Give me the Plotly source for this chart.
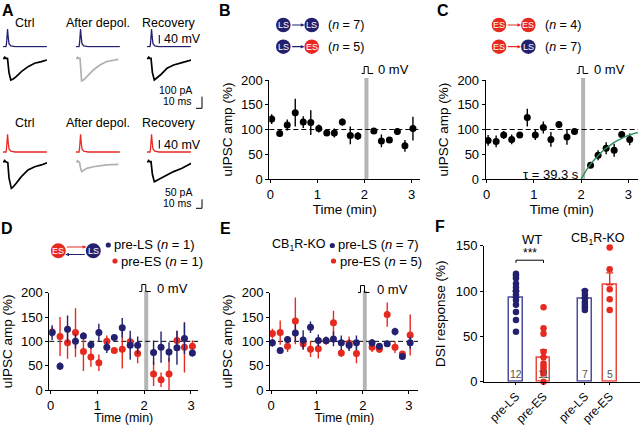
import plotly.graph_objects as go

W, H = 640, 425
FONT = "Arial, 'Liberation Sans', Helvetica, sans-serif"
NAVY = "#23206f"
RED = "#e62a20"
BLUE_OUT = "#4d4b9e"
RED_OUT = "#e8473b"
GRAY_BAR = "#b5b5b5"
GREEN = "#2f8f5b"
TRACE_GRAY = "#b0b0b0"

# ------------------------------------------------------------------ data
time_min = [0.03, 0.2, 0.36, 0.53, 0.7, 0.86, 1.03, 1.2, 1.36, 1.53, 1.7, 1.86,
            2.2, 2.36, 2.53, 2.7, 2.86, 3.03]

b_amp = [121, 92, 109, 134, 115, 114, 102, 93, 93, 115, 88, 87, 97, 77, 79, 96, 67, 102]
b_err = [10, 7, 11, 28, 12, 25, 8, 5, 9, 7, 18, 8, 5, 13, 5, 7, 12, 24]

c_amp = [78, 76, 89, 80, 89, 124, 89, 104, 80, 110, 85, 96, 28, 48, 62, 58, 90, 80]
c_err = [11, 12, 8, 10, 6, 18, 10, 12, 15, 7, 16, 6, 6, 10, 12, 13, 5, 12]
c_fit_t = [2.0, 2.1, 2.2, 2.3, 2.4, 2.5, 2.6, 2.7, 2.8, 2.9, 3.0, 3.1, 3.2]
c_fit_amp = [0, 16, 30, 41, 51, 60, 67, 74, 79, 84, 88, 91, 94]
tau_label = "τ = 39.3 s"

d_ls_amp = [118, 49, 125, 100, 111, 93, 118, 88, 108, 128, 92, 92, 77, 88, 78, 87, 106, 76]
d_ls_err = [15, 8, 28, 15, 6, 8, 18, 12, 5, 20, 30, 18, 25, 32, 20, 35, 32, 7]
d_es_amp = [119, 110, 97, 118, 79, 68, 56, 100, 81, 84, 99, 75, 33, 21, 33, 102, 88, 90]
d_es_err = [10, 40, 33, 50, 40, 20, 17, 12, 3, 40, 10, 20, 25, 15, 33, 20, 52, 12]

e_ls_amp = [97, 81, 104, 117, 103, 129, 102, 102, 105, 97, 92, 97, 97, 90, 95, 120, 69, 97]
e_ls_err = [8, 6, 7, 18, 20, 12, 12, 8, 15, 15, 12, 15, 8, 5, 6, 8, 5, 12]
e_es_amp = [116, 118, 90, 142, 95, 84, 85, 101, 138, 76, 96, 75, 88, 84, 155, 88, 74, 113]
e_es_err = [10, 25, 12, 48, 12, 16, 20, 8, 25, 8, 14, 20, 10, 8, 25, 12, 5, 42]

f_labels = ["pre-LS", "pre-ES", "pre-LS", "pre-ES"]
f_means = [93, 27, 92, 107]
f_sem = [7, 8, 9, 13]
f_points = [
    [119, 117, 114, 108, 104, 100, 96, 90, 85, 77, 68, 55],
    [82, 59, 53, 33, 27, 20, 17, 14, 11, 9, 0],
    [100, 96, 92, 88, 85, 82, 79],
    [148, 124, 102, 91, 79],
]

# Panel A waveforms (ms, mV / pA)
spike_t = [0, 5, 6, 6.8, 7.6, 8.6, 10, 13, 20, 73]
spike_mv = [-65, -65, -45, 5, 23, -15, -50, -61, -65, -65]

ipsc_top = {
    "ctrl": ([0, 2, 3, 4.5, 7.5, 10, 13, 17, 22, 30.6, 41.7, 52.8, 63.9, 73.3],
             [0, 0, 10, 0, 0, -130, -197, -188, -167, -121, -76, -45, -30, -15]),
    "after": ([0, 2, 3, 4.5, 6.7, 8, 9.4, 13, 17.8, 28.9, 40, 51, 60, 70.6],
              [0, 0, 8, 0, 0, -120, -206, -195, -167, -106, -61, -30, -20, -9]),
    "recov": ([0, 2, 3, 4.5, 6.7, 9, 12.2, 16, 22.2, 33.3, 44.4, 58.3, 66, 73.9],
              [0, 0, 10, 0, 0, -130, -197, -180, -152, -91, -61, -39, -25, -15]),
}
ipsc_bot = {
    "ctrl": ([0, 2, 3, 4.5, 8, 10, 13.9, 17, 22, 30.6, 41.7, 52.8, 63.9, 73.3],
             [0, 0, 6, 0, -5, -90, -148, -140, -120, -83, -46, -28, -18, -6]),
    "after": ([0, 2, 3, 4.5, 6, 7.5, 9.4, 13, 17.8, 28.9, 40, 51, 60, 70.6],
              [0, 0, 5, 0, -5, -35, -55, -48, -37, -28, -22, -18, -16, -15]),
    "recov": ([0, 2, 3, 4.5, 6.7, 9, 12.2, 16, 22.2, 33.3, 44.4, 58.3, 66, 73.9],
              [0, 0, 6, 0, 0, -70, -111, -105, -96, -74, -55, -37, -22, -9]),
}

# ------------------------------------------------------------------ helpers
def X(p):
    return p / W


def Y(p):
    return 1 - p / H


layout_axes = {}
traces = []
shapes = []
annotations = []


def ax_name(i, kind):
    return f"{kind}axis" if i == 1 else f"{kind}axis{i}"


def ax_ref(i, kind):
    return kind if i == 1 else f"{kind}{i}"


def add_axis(i, x0, x1, ytop, ybot, xr, yr, visible=False, xkw=None, ykw=None):
    base = dict(showgrid=False, zeroline=False, fixedrange=True, automargin=False)
    xa = dict(base, domain=[X(x0), X(x1)], range=xr, anchor=ax_ref(i, "y"), visible=visible)
    ya = dict(base, domain=[Y(ybot), Y(ytop)], range=yr, anchor=ax_ref(i, "x"), visible=visible)
    if xkw:
        xa.update(xkw)
    if ykw:
        ya.update(ykw)
    layout_axes[ax_name(i, "x")] = xa
    layout_axes[ax_name(i, "y")] = ya


def ann(text, x, y, size=12.5, xanchor="center", color="black", bold=False, yanchor="middle"):
    if bold:
        text = f"<b>{text}</b>"
    annotations.append(dict(text=text, x=X(x), y=Y(y), xref="paper", yref="paper",
                            showarrow=False, xanchor=xanchor, yanchor=yanchor, borderpad=0,
                            font=dict(size=size, color=color, family=FONT)))


def path_px(points, color="black", width=1):
    d = "M " + " L ".join(f"{X(px)},{Y(py)}" for px, py in points)
    shapes.append(dict(type="path", path=d, xref="paper", yref="paper",
                       line=dict(color=color, width=width)))


# ------------------------------------------------------------------ Panel A
col_x0 = {"ctrl": 3, "after": 76, "recov": 147}
col_label = {"ctrl": ("Ctrl", 24), "after": ("After depol.", 98), "recov": ("Recovery", 169)}
idx = 1
for group, spike_color, spike_top, ipsc_data, ipsc_top_px, ipsc_range, label_y in [
    ("top", NAVY, 27.7, ipsc_top, 56.1, [-230, 20], 23),
    ("bot", RED, 133.0, ipsc_bot, 159.0, [-170, 15], 123),
]:
    ipsc_h = (ipsc_range[1] - ipsc_range[0]) / (9.09 if group == "top" else 5.56)
    for col in ["ctrl", "after", "recov"]:
        x0 = col_x0[col]
        add_axis(idx, x0, x0 + 44, spike_top, spike_top + 20, [0, 73.3], [-70, 30])
        traces.append(go.Scatter(x=spike_t, y=spike_mv, mode="lines",
                                 line=dict(color=spike_color, width=1.3),
                                 xaxis=ax_ref(idx, "x"), yaxis=ax_ref(idx, "y"),
                                 showlegend=False, hoverinfo="skip"))
        idx += 1
        t, v = ipsc_data[col]
        add_axis(idx, x0, x0 + 44, ipsc_top_px, ipsc_top_px + ipsc_h, [0, 73.3], ipsc_range)
        traces.append(go.Scatter(x=t, y=v, mode="lines",
                                 line=dict(color=TRACE_GRAY if col == "after" else "black", width=1.7),
                                 xaxis=ax_ref(idx, "x"), yaxis=ax_ref(idx, "y"),
                                 showlegend=False, hoverinfo="skip"))
        idx += 1
        txt, cx = col_label[col]
        ann(txt, cx, label_y, size=12.5)

# scale bars panel A
for ytop, ybot, ytext in [(35, 43.5, 39.5), (140, 148.5, 144.5)]:
    path_px([(159.3, ytop), (159.3, ybot)], width=1)
    ann("40 mV", 162.5, ytext, size=12.5, xanchor="left")
path_px([(202, 96.7), (202, 108.3), (196, 108.3)], width=1)
ann("100 pA", 193, 90.5, size=10.5, xanchor="right")
ann("10 ms", 193, 101, size=10.5, xanchor="right")
path_px([(202, 199.3), (202, 208.3), (196, 208.3)], width=1)
ann("50 pA", 193, 192, size=10.5, xanchor="right")
ann("10 ms", 193, 202.5, size=10.5, xanchor="right")

# ------------------------------------------------------------------ B-E time courses
tick_font = dict(size=13, family=FONT, color="black")
title_font = dict(size=13.5, family=FONT, color="black")


def time_axes(i, x0, x1, ytop, ybot, xr, xtitle_y=None):
    xkw = dict(visible=True, showline=True, linecolor="black", linewidth=1, ticks="outside",
               ticklen=3, tickwidth=1, tickcolor="black", tickvals=[0, 1, 2, 3],
               tickfont=tick_font)
    if xtitle_y is None:
        xkw["title"] = dict(text="Time (min)", font=title_font, standoff=1)
    else:
        ann("Time (min)", (x0 + x1) / 2, xtitle_y, size=12.5)
    ykw = dict(visible=True, showline=True, linecolor="black", linewidth=1, ticks="outside",
               ticklen=3, tickwidth=1, tickcolor="black", tickvals=[0, 50, 100, 150, 200],
               tickfont=tick_font, title=dict(text="uIPSC amp (%)", font=title_font, standoff=5))
    add_axis(i, x0, x1, ytop, ybot, xr, [0, 200], xkw=xkw, ykw=ykw)
    shapes.append(dict(type="rect", xref=ax_ref(i, "x"), yref=ax_ref(i, "y") + " domain",
                       x0=2.0, x1=2.085, y0=0, y1=1.02, fillcolor=GRAY_BAR, line=dict(width=0),
                       layer="below"))
    shapes.append(dict(type="line", xref=ax_ref(i, "x") + " domain", yref=ax_ref(i, "y"),
                       x0=0, x1=1, y0=100, y1=100,
                       line=dict(color="black", width=1, dash="5px,3px"), layer="below"))


def pts(i, y, err, color, ecolor):
    traces.append(go.Scatter(x=time_min, y=y, mode="markers",
                             marker=dict(color=color, size=7),
                             error_y=dict(type="data", array=err, color=ecolor, thickness=1.4, width=0),
                             xaxis=ax_ref(i, "x"), yaxis=ax_ref(i, "y"),
                             showlegend=False, hoverinfo="skip"))


def pulse(x0, y):
    path_px([(x0, y + 3.5), (x0 + 2.5, y + 3.5), (x0 + 2.5, y - 3.5), (x0 + 6.5, y - 3.5),
             (x0 + 6.5, y + 3.5), (x0 + 11.5, y + 3.5)], width=1)


iB, iC, iD, iE, iF = 13, 14, 15, 16, 17
time_axes(iB, 269.3, 420, 80, 179, [-0.021, 3.18])
time_axes(iC, 485.7, 638, 80, 179, [-0.021, 3.205])
time_axes(iD, 49.3, 198, 292.7, 390, [-0.03, 3.15], xtitle_y=417.5)
time_axes(iE, 270, 418, 292.7, 390, [-0.022, 3.2], xtitle_y=417.5)

pts(iB, b_amp, b_err, "black", "black")
pts(iC, c_amp, c_err, "black", "black")
traces.append(go.Scatter(x=c_fit_t, y=c_fit_amp, mode="lines", line=dict(color=GREEN, width=1.4, shape="spline"),
                         xaxis=ax_ref(iC, "x"), yaxis=ax_ref(iC, "y"), showlegend=False, hoverinfo="skip"))
annotations.append(dict(text=tau_label, x=1.99, y=10, xref=ax_ref(iC, "x"), yref=ax_ref(iC, "y"),
                        showarrow=False, xanchor="right", yanchor="middle",
                        font=dict(size=13, family=FONT, color="black")))
pts(iD, d_es_amp, d_es_err, RED, RED)
pts(iD, d_ls_amp, d_ls_err, NAVY, NAVY)
pts(iE, e_es_amp, e_es_err, RED, RED)
pts(iE, e_ls_amp, e_ls_err, NAVY, NAVY)

for px0, py, tx in [(361.7, 70, 377), (576.7, 70, 592.5), (139.3, 288, 156), (358, 289, 375.5)]:
    pulse(px0, py)
    ann("0 mV", tx, py, size=13, xanchor="left")


# icons
def circle(cx, cy, r, color, label):
    shapes.append(dict(type="circle", xref="paper", yref="paper",
                       x0=X(cx - r), x1=X(cx + r), y0=Y(cy + r), y1=Y(cy - r),
                       fillcolor=color, line=dict(width=0)))
    ann(label, cx, cy + 0.3, size=9, color="white")


def arrow(x_from, x_to, y, color):
    annotations.append(dict(x=X(x_to), y=Y(y), ax=x_from - x_to, ay=0, xref="paper", yref="paper",
                            axref="pixel", ayref="pixel", text="", showarrow=True,
                            arrowhead=2, arrowsize=0.6, arrowwidth=1.2, arrowcolor=color,
                            standoff=0, startstandoff=0))


def pair_icon(x1, x2, y, c1, l1, c2, l2, ntext):
    r = 7.3
    arrow(x1 + r, x2 - r, y, c1)
    circle(x1, y, r, c1, l1)
    circle(x2, y, r, c2, l2)
    ann(ntext, x2 + 15.5, y, size=12.5, xanchor="left")


pair_icon(283.3, 311.7, 25, NAVY, "LS", NAVY, "LS", "(<i>n</i> = 7)")
pair_icon(283.3, 311.7, 46.7, NAVY, "LS", RED, "ES", "(<i>n</i> = 5)")
pair_icon(499, 528.3, 25, RED, "ES", RED, "ES", "(<i>n</i> = 4)")
pair_icon(499, 528.3, 46.7, RED, "ES", NAVY, "LS", "(<i>n</i> = 7)")

# D icon
arrow(58.3 + 7, 93.3 - 7, 247, RED)
arrow(93.3 - 7, 58.3 + 7, 254.5, NAVY)
circle(58.3, 250.7, 7.5, RED, "ES")
circle(93.3, 250.7, 7.5, NAVY, "LS")


def legend_dot(cx, cy, color):
    shapes.append(dict(type="circle", xref="paper", yref="paper",
                       x0=X(cx - 2.6), x1=X(cx + 2.6), y0=Y(cy + 2.6), y1=Y(cy - 2.6),
                       fillcolor=color, line=dict(width=0)))


legend_dot(108.3, 245, NAVY)
ann("pre-LS (<i>n</i> = 1)", 113, 245, size=13, xanchor="left")
legend_dot(115, 261, RED)
ann("pre-ES (<i>n</i> = 1)", 120, 261, size=13, xanchor="left")

ann("CB<sub>1</sub>R-KO", 271, 245, size=12.5, xanchor="left")
legend_dot(332.3, 245.5, NAVY)
ann("pre-LS (<i>n</i> = 7)", 337, 245, size=13, xanchor="left")
legend_dot(333.5, 261, RED)
ann("pre-ES (<i>n</i> = 5)", 338.5, 261, size=13, xanchor="left")

# ------------------------------------------------------------------ F
f_pos = [0, 1, 2.5, 3.4]
f_colors = [NAVY, RED, NAVY, RED]
f_out = [BLUE_OUT, RED_OUT, BLUE_OUT, RED_OUT]
xkwF = dict(visible=True, showline=True, linecolor="black", linewidth=1, ticks="outside",
            ticklen=2, tickcolor="black", tickvals=f_pos, ticktext=f_labels, tickangle=-45,
            tickfont=dict(size=12, family=FONT, color="black"))
ykwF = dict(visible=True, showline=True, linecolor="black", linewidth=1, ticks="outside",
            ticklen=3, tickwidth=1, tickcolor="black", tickvals=[0, 50, 100, 150],
            tickfont=tick_font, title=dict(text="DSI response (%)", font=title_font, standoff=6))
add_axis(iF, 484, 640, 245.7, 381.7, [-1.16, 4.5], [0, 150], xkw=xkwF, ykw=ykwF)
for k in range(4):
    traces.append(go.Bar(x=[f_pos[k]], y=[f_means[k]], width=0.5,
                         marker=dict(color="white", line=dict(color=f_out[k], width=1.5)),
                         error_y=dict(type="data", symmetric=False, array=[f_sem[k]], arrayminus=[0],
                                      color=f_colors[k], thickness=1.4, width=3.5),
                         xaxis=ax_ref(iF, "x"), yaxis=ax_ref(iF, "y"),
                         showlegend=False, hoverinfo="skip"))
    traces.append(go.Scatter(x=[f_pos[k]] * len(f_points[k]), y=f_points[k], mode="markers",
                             marker=dict(color=f_colors[k], size=6.5),
                             xaxis=ax_ref(iF, "x"), yaxis=ax_ref(iF, "y"),
                             showlegend=False, hoverinfo="skip", cliponaxis=False))
    annotations.append(dict(text=str(len(f_points[k])), x=f_pos[k], y=9, xref=ax_ref(iF, "x"),
                            yref=ax_ref(iF, "y"), showarrow=False,
                            font=dict(size=10.5, family=FONT, color="#555555")))

shapes.append(dict(type="path", xref=ax_ref(iF, "x"), yref=ax_ref(iF, "y"),
                   path="M 0,131 L 0,134 L 1,134 L 1,131", line=dict(color="black", width=1)))
annotations.append(dict(text="***", x=0.5, y=142, xref=ax_ref(iF, "x"), yref=ax_ref(iF, "y"),
                        showarrow=False, font=dict(size=12, family=FONT, color="black")))
ann("WT", 531.7, 239, size=13)
ann("CB<sub>1</sub>R-KO", 598, 239, size=12.5)

for letter, x, y in [("A", 8, 10), ("B", 225, 10), ("C", 443, 10), ("D", 7, 228),
                     ("E", 225, 228), ("F", 440, 227)]:
    ann(letter, x, y, size=16, bold=True)

fig = go.Figure(data=traces)
fig.update_layout(width=W, height=H, margin=dict(l=0, r=0, t=0, b=0),
                  paper_bgcolor="white", plot_bgcolor="rgba(0,0,0,0)",
                  font=dict(family=FONT, size=12, color="black"),
                  shapes=shapes, annotations=annotations, showlegend=False, bargap=0)
fig.update_layout(**layout_axes)
fig.write_html("out.html", config={"displayModeBar": False},
               post_script="document.body.style.margin='0px';")
